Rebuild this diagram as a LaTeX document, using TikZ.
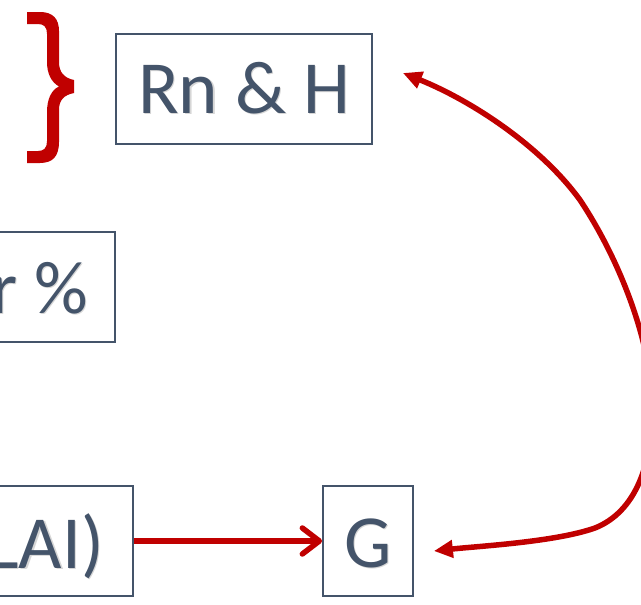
\documentclass[tikz,border=0pt]{standalone}
\usepackage{fontspec}
\setmainfont{Carlito}
\usetikzlibrary{arrows.meta}
\definecolor{slate}{HTML}{44546A}
\definecolor{darkred}{HTML}{C00000}
\begin{document}
\begin{tikzpicture}[x=1pt,y=-1pt,
  box/.style={draw=slate, line width=1.8pt, minimum height=110pt, inner sep=0pt,
    text=slate, font=\fontsize{75}{80}\selectfont},
  lbl/.style={text=slate, inner sep=0pt, font=\fontsize{75}{80}\selectfont},
  lblshadow/.style={text=black, opacity=0.16, inner sep=0pt, font=\fontsize{75}{80}\selectfont},
  straightlink/.style={draw=darkred, line width=5.5pt,
    -{Straight Barb[length=17pt,width=26pt,line cap=round,line join=round]}},
  curvelink/.style={draw=darkred, line width=5.5pt,
    {Triangle[length=19pt,width=17pt]}-{Triangle[length=19pt,width=17pt]}}]
\useasboundingbox (0,0) rectangle (641,605);
\clip (0,0) rectangle (641,605);

% red curly brace
\fill[darkred] (27,12) -- (40,12) .. controls (53,12) and (59,19) .. (59,31)
  -- (59,62) .. controls (59,72) and (64,78) .. (74,80) -- (74,93)
  .. controls (64,95) and (59,100) .. (59,110) -- (59,142)
  .. controls (59,156) and (53,163) .. (40,163) -- (27,163) -- (27,151)
  -- (38,151) .. controls (44,151) and (47,148) .. (47,141) -- (47,112)
  .. controls (47,100) and (51,90) .. (59,86.5)
  .. controls (51,82) and (47,73) .. (47,62) -- (47,34)
  .. controls (47,27) and (44,24) .. (38,24) -- (27,24) -- cycle;

% boxes
\node[box, minimum width=256pt] (rn) at (244,89) {};
\node[box, minimum width=315pt] (pct) at (-42.5,287) {};
\node[box, minimum width=433pt] (lai) at (-83.5,541) {};
\node[box, minimum width=90pt] (g) at (368,541) {};

% labels with a soft shadow
\node[lblshadow, anchor=base] (rnS) at ([shift={(1.5,1.5)}]rn.center |- 0,113) {Rn \& H};
\node[lbl, anchor=base] (rnT) at (rn.center |- 0,113) {Rn \& H};
\node[lblshadow, anchor=base east] (pctS) at (89.5,314.5) {r \%};
\node[lbl, anchor=base east] (pctT) at (88,313) {r \%};
\node[lblshadow, anchor=base east] (laiS) at (105.5,569.5) {LAI)};
\node[lbl, anchor=base east] (laiT) at (104,568) {LAI)};
\node[lblshadow, anchor=base] (gS) at ([shift={(1.5,1.5)}]g.center |- 0,567) {G};
\node[lbl, anchor=base] (gT) at (g.center |- 0,567) {G};

% connectors
\draw[straightlink] (lai.east) -- (g.west);
\coordinate (rnTip) at ([shift={(30,-16)}]rn.east);
\coordinate (gTip) at ([shift={(20,10)}]g.east);
\draw[curvelink] (rnTip) .. controls (470,100) and (540,145) .. (580,200)
  .. controls (620,260) and (650,340) .. (652,400)
  .. controls (654,465) and (635,512) .. (595,528)
  .. controls (555,542) and (480,546) .. (gTip);
\end{tikzpicture}
\end{document}
